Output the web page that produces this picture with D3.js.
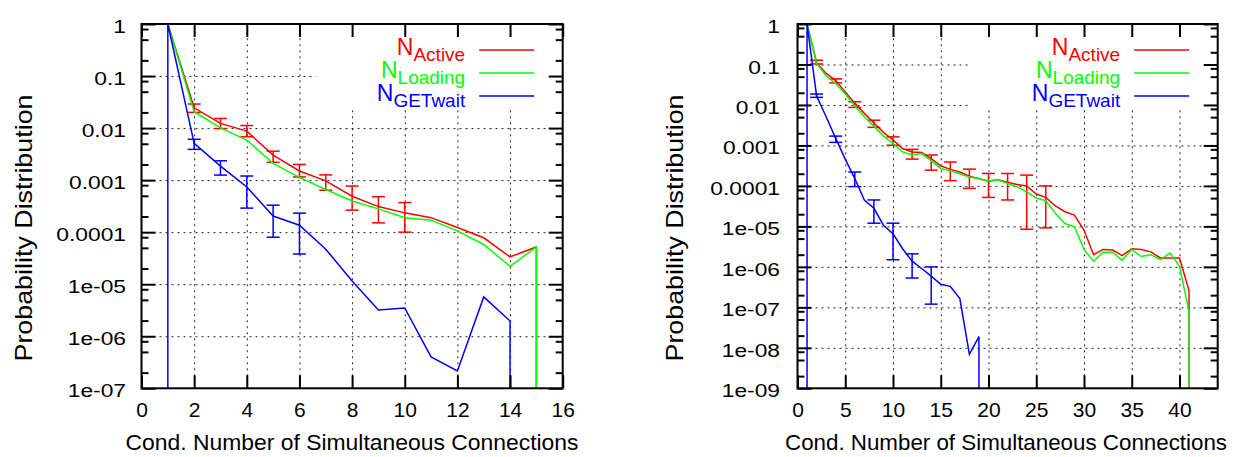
<!DOCTYPE html>
<html>
<head>
<meta charset="utf-8">
<script src="https://cdn.jsdelivr.net/npm/d3@7"></script>
<style>
  body { margin: 0; background: #fff; }
  svg text { font-family: "Liberation Sans", Arial, Helvetica, sans-serif; }
</style>
</head>
<body>
<svg id="chart" width="1235" height="457"></svg>
<script>
// series names / colours (shared by both panels)
const seriesNames = ['Active', 'Loading', 'GETwait'];
const seriesColors = ['#ff0000', '#00ff00', '#0000ff'];

// ---- left panel ----
const leftXTicks = [0, 2, 4, 6, 8, 10, 12, 14, 16];
const leftYTicks = [1, 0.1, 0.01, 0.001, 0.0001, 1e-5, 1e-6, 1e-7];
const leftYLabels = ['1', '0.1', '0.01', '0.001', '0.0001', '1e-05', '1e-06', '1e-07'];

// a value of 0 means "no sample": the line drops to the bottom of the plot
const leftActiveX = [1, 2, 3, 4, 5, 6, 7, 8, 9, 10, 11, 12, 13, 14, 15, 15];
const leftActiveY = [1, 0.0245, 0.0123, 0.00875, 0.00303, 0.0015, 0.00097, 0.00049, 0.00031, 0.000235,
  0.00019, 0.000123, 7.8e-5, 3.35e-5, 5.2e-5, 0];
const leftActiveErrX = [1, 2, 3, 4, 5, 6, 7, 8, 9, 10];
const leftActiveErrLo = [1, 0.020, 0.0098, 0.0068, 0.0022, 0.00115, 0.00064, 0.000265, 0.000151, 0.0001];
const leftActiveErrHi = [1, 0.029, 0.0153, 0.0112, 0.0036, 0.0020, 0.00126, 0.00077, 0.00048, 0.00037];

const leftLoadingX = [1, 2, 3, 4, 5, 6, 7, 8, 9, 10, 11, 12, 13, 14, 15, 15];
const leftLoadingY = [1, 0.0206, 0.0101, 0.0059, 0.0021, 0.00113, 0.00066, 0.000397, 0.00028, 0.00019,
  0.00017, 0.000106, 5.8e-5, 2.2e-5, 5.2e-5, 0];

const leftGetX = [1, 1, 2, 3, 4, 5, 6, 7, 8, 9, 10, 11, 12, 13, 14, 14];
const leftGetY = [0, 1, 0.0051, 0.00186, 0.00074, 0.000204, 0.000136, 4.7e-5, 1.15e-5, 3.2e-6, 3.5e-6,
  4.0e-7, 2.15e-7, 5.7e-6, 1.96e-6, 0];
const leftGetErrX = [1, 2, 3, 4, 5, 6];
const leftGetErrLo = [1, 0.0039, 0.00125, 0.00029, 8e-5, 3.8e-5];
const leftGetErrHi = [1, 0.0061, 0.00235, 0.0012, 0.00033, 0.000232];

// ---- right panel ----
const rightXTicks = [0, 5, 10, 15, 20, 25, 30, 35, 40];
const rightYTicks = [1, 0.1, 0.01, 0.001, 0.0001, 1e-5, 1e-6, 1e-7, 1e-8, 1e-9];
const rightYLabels = ['1', '0.1', '0.01', '0.001', '0.0001', '1e-05', '1e-06', '1e-07', '1e-08', '1e-09'];

const rightActiveX = d3.range(1, 42).concat([41]);
const rightActiveY = [1, 0.11, 0.06, 0.04, 0.021, 0.011, 0.0062, 0.0036, 0.0021, 0.00136,
  0.00084, 0.00069, 0.00067, 0.00047, 0.000314, 0.000256, 0.00022, 0.000174, 0.00015, 0.000131,
  0.000141, 0.000123, 0.000108, 0.0001, 6.3e-5, 5.2e-5, 3.2e-5, 2.3e-5, 1.9e-5, 8.1e-6,
  2.0e-6, 2.7e-6, 2.6e-6, 1.9e-6, 2.8e-6, 2.7e-6, 2.35e-6, 1.66e-6, 1.66e-6, 1.66e-6,
  2.6e-7, 0];
const rightActiveErrX = [2, 4, 6, 8, 10, 12, 14, 16, 18, 20, 22, 24, 26];
const rightActiveErrLo = [0.103, 0.035, 0.0087, 0.0028, 0.00101, 0.00046, 0.000245, 0.000135, 8.7e-5,
  5.2e-5, 4.5e-5, 8.5e-6, 9.2e-6];
const rightActiveErrHi = [0.127, 0.044, 0.0120, 0.0042, 0.00163, 0.00080, 0.00058, 0.00039, 0.00026,
  0.000203, 0.000203, 0.000185, 0.0001];

const rightLoadingX = d3.range(1, 42).concat([41]);
const rightLoadingY = [1, 0.107, 0.052, 0.034, 0.0187, 0.0094, 0.0051, 0.003, 0.0017, 0.00112,
  0.00069, 0.00058, 0.00063, 0.00042, 0.00027, 0.000235, 0.0002, 0.000165, 0.00015, 0.000133,
  0.000141, 0.000115, 0.000096, 7.1e-5, 5.0e-5, 4.3e-5, 2.1e-5, 1.18e-5, 9.8e-6, 2.7e-6,
  1.38e-6, 2.3e-6, 2.3e-6, 1.45e-6, 2.7e-6, 1.8e-6, 2.0e-6, 1.5e-6, 2.2e-6, 1.04e-6,
  7.7e-8, 0];

const rightGetX = [1].concat(d3.range(1, 20), [19]);
const rightGetY = [0, 1, 0.0166, 0.0051, 0.00149, 0.00046, 0.000152, 4.5e-5, 2.8e-5, 1.07e-5, 6.6e-6,
  2.8e-6, 1.38e-6, 9.1e-7, 5.9e-7, 3.7e-7, 3.3e-7, 1.65e-7, 6.9e-9, 1.9e-8, 0];
const rightGetErrX = [2, 4, 6, 8, 10, 12, 14];
const rightGetErrLo = [0.0154, 0.00119, 9.6e-5, 1.2e-5, 1.5e-6, 5.3e-7, 1.2e-7];
const rightGetErrHi = [0.0186, 0.0017, 0.00022, 4.5e-5, 1.2e-5, 2.1e-6, 1.0e-6];

const svg = d3.select('#chart');

function drawPanel(p) {
  const x = d3.scaleLinear().domain([0, p.xMax]).range([p.x0, p.x1]);
  const y = d3.scaleLog().domain([p.yTicks[p.yTicks.length - 1], 1]).range([p.y1, p.y0]).clamp(true);
  const g = svg.append('g');
  const h = p.y1 - p.y0, w = p.x1 - p.x0;

  // dotted grid
  const gridStyle = sel => {
    sel.select('.domain').remove();
    sel.selectAll('line').attr('stroke', '#222').attr('stroke-width', 1).attr('stroke-dasharray', '2,4');
  };
  g.append('g').attr('transform', `translate(0,${p.y1})`)
    .call(d3.axisBottom(x).tickValues(p.xTicks.filter(t => t > 0 && t < p.xMax)).tickSize(-h).tickFormat(''))
    .call(gridStyle);
  g.append('g').attr('transform', `translate(${p.x0},0)`)
    .call(d3.axisLeft(y).tickValues(p.yTicks.slice(1, -1)).tickSize(-w).tickFormat(''))
    .call(gridStyle);

  // key area blanks the grid
  g.append('rect').attr('x', p.x1 - 247).attr('y', p.y0).attr('width', 247).attr('height', 83).attr('fill', '#fff');

  // series
  const line = d3.line().x(d => x(d[0])).y(d => y(d[1]));
  p.series.forEach((s, i) => {
    const col = seriesColors[i];
    if (s.errX) {
      const eb = g.append('g').attr('stroke', col).attr('stroke-width', 1.5);
      s.errX.forEach((ex, k) => {
        const cx = x(ex), ylo = y(s.errLo[k]), yhi = y(s.errHi[k]);
        eb.append('line').attr('x1', cx).attr('x2', cx).attr('y1', ylo).attr('y2', yhi);
        eb.append('line').attr('x1', cx - 6.5).attr('x2', cx + 6.5).attr('y1', ylo).attr('y2', ylo);
        eb.append('line').attr('x1', cx - 6.5).attr('x2', cx + 6.5).attr('y1', yhi).attr('y2', yhi);
      });
    }
    g.append('path').datum(d3.zip(s.x, s.y)).attr('d', line)
      .attr('fill', 'none').attr('stroke', col).attr('stroke-width', 1.5);
  });

  // axes with inward ticks
  const tickStyle = sel => {
    sel.select('.domain').remove();
    sel.selectAll('line').attr('stroke', '#000').attr('stroke-width', 2);
  };
  g.append('g').attr('transform', `translate(0,${p.y1})`)
    .call(d3.axisBottom(x).tickValues(p.xTicks).tickSize(-13).tickPadding(14))
    .call(tickStyle)
    .call(sel => sel.selectAll('text').attr('font-size', 21).attr('fill', '#000'));
  g.append('g').attr('transform', `translate(0,${p.y0})`)
    .call(d3.axisTop(x).tickValues(p.xTicks).tickSize(-13).tickFormat(''))
    .call(tickStyle);

  const minors = [];
  p.yTicks.slice(1).forEach(d => [2, 5, 8].forEach(m => minors.push(d * m)));
  g.append('g').attr('transform', `translate(${p.x0},0)`)
    .call(d3.axisLeft(y).tickValues(p.yTicks).tickSize(-14).tickFormat((d, i) => p.yLabels[i]))
    .call(tickStyle)
    .call(sel => sel.selectAll('text').attr('font-size', 19).attr('fill', '#000')
      .attr('x', -p.labelPad / 1.2).attr('dy', '0.45em').attr('transform', 'scale(1.2,1)'));
  g.append('g').attr('transform', `translate(${p.x0},0)`)
    .call(d3.axisLeft(y).tickValues(minors).tickSize(-7).tickFormat(''))
    .call(tickStyle);
  g.append('g').attr('transform', `translate(${p.x1},0)`)
    .call(d3.axisRight(y).tickValues(p.yTicks).tickSize(-14).tickFormat(''))
    .call(tickStyle);
  g.append('g').attr('transform', `translate(${p.x1},0)`)
    .call(d3.axisRight(y).tickValues(minors).tickSize(-7).tickFormat(''))
    .call(tickStyle);

  // frame
  g.append('rect').attr('x', p.x0).attr('y', p.y0).attr('width', w).attr('height', h)
    .attr('fill', 'none').attr('stroke', '#000').attr('stroke-width', 2);

  // axis titles
  g.append('text').attr('x', p.xTitleX).attr('y', 450).attr('text-anchor', 'middle')
    .attr('font-size', 22).attr('textLength', p.xTitleLen).attr('lengthAdjust', 'spacingAndGlyphs')
    .text('Cond. Number of Simultaneous Connections');
  g.append('text').attr('transform', `translate(${p.yTitleX},228) rotate(-90)`).attr('text-anchor', 'middle')
    .attr('font-size', 24).attr('textLength', 267).attr('lengthAdjust', 'spacingAndGlyphs')
    .text('Probability Distribution');

  // key
  seriesNames.forEach((name, i) => {
    const ly = p.y0 + 26 + 23 * i;
    g.append('line').attr('x1', p.x1 - 83.5).attr('x2', p.x1 - 28.5).attr('y1', ly).attr('y2', ly)
      .attr('stroke', seriesColors[i]).attr('stroke-width', 1.5);
    const t = g.append('text').attr('x', p.x1 - 97.5).attr('y', ly + 5).attr('text-anchor', 'end')
      .attr('fill', seriesColors[i]);
    t.append('tspan').attr('font-size', 23).text('N');
    t.append('tspan').attr('font-size', 19).attr('dy', 6).text(name);
  });
}

drawPanel({
  x0: 141.5, x1: 562.7, y0: 24, y1: 388.3, xMax: 16,
  xTicks: leftXTicks, yTicks: leftYTicks, yLabels: leftYLabels,
  labelPad: 15.5, yTitleX: 31.5, xTitleX: 352, xTitleLen: 453,
  series: [
    { x: leftActiveX, y: leftActiveY, errX: leftActiveErrX, errLo: leftActiveErrLo, errHi: leftActiveErrHi },
    { x: leftLoadingX, y: leftLoadingY },
    { x: leftGetX, y: leftGetY, errX: leftGetErrX, errLo: leftGetErrLo, errHi: leftGetErrHi }
  ]
});

drawPanel({
  x0: 797.5, x1: 1217.7, y0: 24, y1: 388.3, xMax: 44,
  xTicks: rightXTicks, yTicks: rightYTicks, yLabels: rightYLabels,
  labelPad: 17.5, yTitleX: 683, xTitleX: 1006, xTitleLen: 442,
  series: [
    { x: rightActiveX, y: rightActiveY, errX: rightActiveErrX, errLo: rightActiveErrLo, errHi: rightActiveErrHi },
    { x: rightLoadingX, y: rightLoadingY },
    { x: rightGetX, y: rightGetY, errX: rightGetErrX, errLo: rightGetErrLo, errHi: rightGetErrHi }
  ]
});
</script>
</body>
</html>
